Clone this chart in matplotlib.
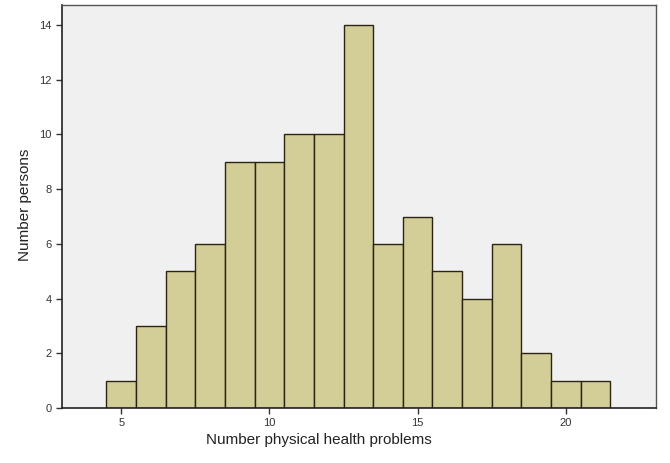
import matplotlib
matplotlib.use("Agg")
import matplotlib.pyplot as plt

values = [5, 6, 7, 8, 9, 10, 11, 12, 13, 14, 15, 16, 17, 18, 19, 20, 21]
counts = [1, 3, 5, 6, 9, 9, 10, 10, 14, 6, 7, 5, 4, 6, 2, 1, 1]
xticks = [5, 10, 15, 20]
yticks = [0, 2, 4, 6, 8, 10, 12, 14]

plt.rcParams['font.family'] = ['Arial', 'Liberation Sans', 'DejaVu Sans']

W, H = 670, 463
fig = plt.figure(figsize=(6.7, 4.63), dpi=100)
ax = fig.add_axes([0.0925, 0.119, 0.886, 0.871])
ax.set_facecolor('#F0F0F0')
ax.bar(values, counts, width=1.0, color='#D3CE98', edgecolor='#2a2410', linewidth=1.0)
ax.set_xlim(3, 23.03)
ax.set_ylim(0, 14.75)
ax.set_xticks(xticks)
ax.set_yticks(yticks)
ax.tick_params(axis='both', direction='out', length=4, width=1, labelsize=8, colors='#333333')
ax.tick_params(top=False, right=False)
for s in ['left', 'bottom']:
    ax.spines[s].set_color('#222222')
    ax.spines[s].set_linewidth(1.2)
for s in ['top', 'right']:
    ax.spines[s].set_color('#555555')
    ax.spines[s].set_linewidth(1.0)
fig.text(319 / W, 1 - 440 / H, 'Number physical health problems', fontsize=11,
         color='#222222', ha='center', va='center')
fig.text(25 / W, 1 - 205 / H, 'Number persons', fontsize=11, rotation=90,
         color='#222222', ha='center', va='center')
fig.savefig('out.png', dpi=100)
